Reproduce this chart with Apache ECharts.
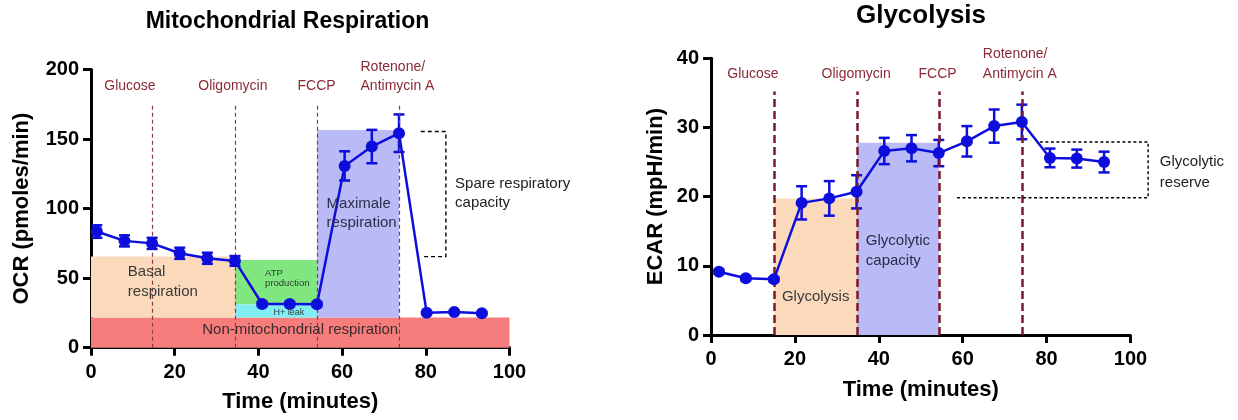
<!DOCTYPE html>
<html lang="en">
<head>
<meta charset="UTF-8">
<title>Mitochondrial Respiration / Glycolysis</title>
<script src="https://cdn.jsdelivr.net/npm/echarts@6/dist/echarts.min.js"></script>
<style>
    html, body { margin: 0; padding: 0; background: #fff; }
    #main { width: 1238px; height: 420px; }
</style>
</head>
<body>
<div id="main"></div>
<script>
// ---- data ----
var ocrTime  = [1.4, 8, 14.6, 21.2, 27.8, 34.4, 40.9, 47.5, 54, 60.6, 67.1, 73.6, 80.2, 86.8, 93.4];
var ocrValue = [83.5, 76.8, 75, 67.9, 64.3, 62.4, 31.4, 31.4, 31.2, 130.7, 144.6, 154.2, 25.2, 25.6, 24.7];
var ocrError = [4.5, 4, 4, 4, 4, 3.5, 1.5, 1.5, 1.5, 10.5, 12, 13.5, 1, 1, 1];

var ecarTime  = [1.9, 8.3, 15, 21.6, 28.2, 34.7, 41.3, 47.8, 54.3, 61, 67.5, 74.1, 80.8, 87.2, 93.7];
var ecarValue = [9.15, 8.2, 8.05, 19.1, 19.75, 20.7, 26.6, 27, 26.3, 28, 30.2, 30.8, 25.6, 25.5, 25];
var ecarError = [0.3, 0.3, 0.3, 2.4, 2.5, 2.4, 1.9, 1.9, 1.9, 2.2, 2.4, 2.5, 1.35, 1.3, 1.5];

var drugNames   = ['Glucose', 'Oligomycin', 'FCCP', 'Rotenone/\nAntimycin A'];
var ocrInject   = [14.6, 34.4, 54, 73.6];
var ecarInject  = [15, 34.8, 54.3, 74.1];

var timeTicks = [0, 20, 40, 60, 80, 100];
var ocrTicks  = [0, 50, 100, 150, 200];
var ecarTicks = [0, 10, 20, 30, 40];

// shaded regions: [x0, x1, y0, y1]
var ocrRegions = {
    basal:   [0, 34.4, 21.8, 65.5],
    nonMito: [0, 100, 0, 21.8],
    atp:     [34.4, 54, 31, 63],
    leak:    [34.4, 54, 21.8, 31],
    maximal: [54, 73.6, 21.8, 156.5]
};
var ecarRegions = {
    glycolysis: [15, 34.8, 0, 19.75],
    capacity:   [34.8, 54.3, 0, 27.8]
};

// ---- styles ----
var FONT = '"Liberation Sans", Arial, sans-serif';
var BLUE = '#0e0edc';
var DRUG = '#8b2a35';
var COLORS = {
    peach: '#fadabb', red: '#f77d7d', green: '#80e680',
    cyan: '#82eef4', lavender: '#babaf6'
};

var chart = echarts.init(document.getElementById('main'), null, {renderer: 'canvas'});

function xAxisOf(g, nameGap, margin) {
    return {
        type: 'value', gridIndex: g, min: timeTicks[0], max: timeTicks[timeTicks.length - 1], interval: 20,
        name: 'Time (minutes)', nameLocation: 'middle', nameGap: nameGap,
        nameTextStyle: {fontFamily: FONT, fontWeight: 'bold', fontSize: 22, color: '#000'},
        axisLine: {show: true, onZero: false, lineStyle: {color: '#000', width: 3}},
        axisTick: {show: true, length: 8, lineStyle: {color: '#000', width: 3}},
        axisLabel: {fontFamily: FONT, fontWeight: 'bold', fontSize: 20, color: '#000', margin: margin},
        splitLine: {show: false}
    };
}
function yAxisOf(g, name, ticks, nameGap) {
    return {
        type: 'value', gridIndex: g, min: ticks[0], max: ticks[ticks.length - 1], interval: ticks[1] - ticks[0],
        name: name, nameLocation: 'middle', nameGap: nameGap,
        nameTextStyle: {fontFamily: FONT, fontWeight: 'bold', fontSize: 22, color: '#000'},
        axisLine: {show: true, onZero: false, lineStyle: {color: '#000', width: 3}},
        axisTick: {show: true, length: 8, lineStyle: {color: '#000', width: 3}},
        axisLabel: {fontFamily: FONT, fontWeight: 'bold', fontSize: 20, color: '#000', margin: 12},
        splitLine: {show: false}
    };
}

function areaItem(r, color) {
    return [{coord: [r[0], r[2]], itemStyle: {color: color, opacity: 1}}, {coord: [r[1], r[3]]}];
}

function errorBars(g, times, values, errs) {
    return {
        type: 'custom', xAxisIndex: g, yAxisIndex: g, z: 4, silent: true,
        data: times.map(function (t, i) { return [t, values[i] - errs[i], values[i] + errs[i]]; }),
        renderItem: function (params, api) {
            var lo = api.coord([api.value(0), api.value(1)]);
            var hi = api.coord([api.value(0), api.value(2)]);
            var w = 5.5, st = {stroke: BLUE, lineWidth: 2.5};
            return {type: 'group', children: [
                {type: 'line', shape: {x1: lo[0], y1: lo[1], x2: hi[0], y2: hi[1]}, style: st},
                {type: 'line', shape: {x1: lo[0] - w, y1: lo[1], x2: lo[0] + w, y2: lo[1]}, style: st},
                {type: 'line', shape: {x1: hi[0] - w, y1: hi[1], x2: hi[0] + w, y2: hi[1]}, style: st}
            ]};
        }
    };
}

function dataLine(g, times, values) {
    return {
        type: 'line', xAxisIndex: g, yAxisIndex: g, z: 5, silent: true,
        data: times.map(function (t, i) { return [t, values[i]]; }),
        symbol: 'circle', symbolSize: 12,
        lineStyle: {color: BLUE, width: 2.5},
        itemStyle: {color: BLUE}
    };
}

function injectLines(g, times, top, style) {
    return {
        type: 'line', xAxisIndex: g, yAxisIndex: g, z: 3, data: [], silent: true,
        markLine: {
            silent: true, symbol: 'none', label: {show: false},
            lineStyle: style,
            data: times.map(function (t) { return [{coord: [t, 0]}, {coord: [t, top]}]; })
        }
    };
}

chart.setOption({
    animation: false,
    grid: [
        {left: 91, right: 728.5, top: 69.5, bottom: 72.3},
        {left: 711, right: 107.5, top: 58.3, bottom: 85}
    ],
    xAxis: [xAxisOf(0, 43, 15), xAxisOf(1, 44, 14)],
    yAxis: [
        yAxisOf(0, 'OCR (pmoles/min)', ocrTicks, 58),
        yAxisOf(1, 'ECAR (mpH/min)', ecarTicks, 44)
    ],
    series: [
        {
            type: 'line', xAxisIndex: 0, yAxisIndex: 0, z: 1, data: [], silent: true,
            markArea: {silent: true, label: {show: false}, data: [
                areaItem(ocrRegions.nonMito, COLORS.red),
                areaItem(ocrRegions.basal, COLORS.peach),
                areaItem(ocrRegions.atp, COLORS.green),
                areaItem(ocrRegions.leak, COLORS.cyan),
                areaItem(ocrRegions.maximal, COLORS.lavender)
            ]}
        },
        {
            type: 'line', xAxisIndex: 1, yAxisIndex: 1, z: 1, data: [], silent: true,
            markArea: {silent: true, label: {show: false}, data: [
                areaItem(ecarRegions.glycolysis, COLORS.peach),
                areaItem(ecarRegions.capacity, COLORS.lavender)
            ]}
        },
        injectLines(0, ocrInject, 176, {color: '#8a3a4a', width: 1.2, type: [4, 3]}),
        injectLines(1, ecarInject, 35.2, {color: '#7a1a2a', width: 2.5, type: [8, 4]}),
        errorBars(0, ocrTime, ocrValue, ocrError),
        errorBars(1, ecarTime, ecarValue, ecarError),
        dataLine(0, ocrTime, ocrValue),
        dataLine(1, ecarTime, ecarValue)
    ]
});

// ---- annotations (placed in data coordinates) ----
function px(g, x, y) { return chart.convertToPixel({gridIndex: g}, [x, y]); }

function label(g, x, y, text, size, color, align, vAlign, lh, weight) {
    var p = px(g, x, y);
    return {
        type: 'text', x: p[0], y: p[1], z: 100, silent: true,
        style: {
            text: text, fill: color || '#333',
            font: (weight || 'normal') + ' ' + size + 'px ' + FONT,
            align: align || 'left', textAlign: align || 'left',
            verticalAlign: vAlign || 'middle', textVerticalAlign: vAlign || 'middle',
            lineHeight: lh || size + 4
        }
    };
}

function bracket(g, pts, dash) {
    return {
        type: 'polyline', z: 100, silent: true,
        shape: {points: pts.map(function (q) { return px(g, q[0], q[1]); })},
        style: {stroke: '#000', lineWidth: 1.4, lineDash: dash, fill: null}
    };
}

var ocrDrugX   = [9.3, 33.9, 53.9, 64.4];
var ecarDrugX  = [10, 34.6, 54, 64.8];
var drugAlign  = ['center', 'center', 'center', 'left'];

var gfx = [];
drugNames.forEach(function (n, i) {
    gfx.push(label(0, ocrDrugX[i], 181.4, n, 14, DRUG, drugAlign[i], 'bottom', 19));
    gfx.push(label(1, ecarDrugX[i], 36.2, n, 14, DRUG, drugAlign[i], 'bottom', 20));
});

// titles
var tl = px(0, 47, 200), tr = px(1, 50, 40);
gfx.push({type: 'text', x: 287.5, y: tl[1] - 48, z: 100, style: {
    text: 'Mitochondrial Respiration', font: 'bold 23px ' + FONT, fill: '#000',
    align: 'center', textAlign: 'center', verticalAlign: 'middle', textVerticalAlign: 'middle'}});
gfx.push({type: 'text', x: 921, y: tr[1] - 42, z: 100, style: {
    text: 'Glycolysis', font: 'bold 26px ' + FONT, fill: '#000',
    align: 'center', textAlign: 'center', verticalAlign: 'middle', textVerticalAlign: 'middle'}});

// region labels
gfx.push(label(0, 8.8, 47.3, 'Basal\nrespiration', 15, '#3a3a3a', 'left', 'middle', 20));
gfx.push(label(0, 50, 12.7, 'Non-mitochondrial respiration', 15, '#3a2a2a', 'center', 'middle', 18));
gfx.push(label(0, 41.6, 49.6, 'ATP\nproduction', 9.5, '#2d3d2d', 'left', 'middle', 10));
gfx.push(label(0, 43.6, 25.5, 'H+ leak', 9, '#2d3d3d', 'left', 'middle', 10));
gfx.push(label(0, 56.3, 96.4, 'Maximale\nrespiration', 15, '#2d2d4a', 'left', 'middle', 19.5));
gfx.push(label(0, 87, 110.6, 'Spare respiratory\ncapacity', 15, '#222', 'left', 'middle', 19));

gfx.push(label(1, 16.9, 5.5, 'Glycolysis', 15, '#3a3a3a', 'left', 'middle', 18));
gfx.push(label(1, 36.9, 12.2, 'Glycolytic\ncapacity', 15, '#2d2d4a', 'left', 'middle', 20));
gfx.push(label(1, 107, 23.5, 'Glycolytic\nreserve', 15, '#222', 'left', 'middle', 21));

// brackets
gfx.push(bracket(0, [[78.8, 155.4], [84.8, 155.4], [84.8, 65.5], [79.6, 65.5]], [4, 3]));
gfx.push(bracket(1, [[78.4, 27.9], [104.2, 27.9], [104.2, 19.85], [58.6, 19.85]], [3, 2.5]));

chart.setOption({graphic: gfx});
</script>
</body>
</html>
